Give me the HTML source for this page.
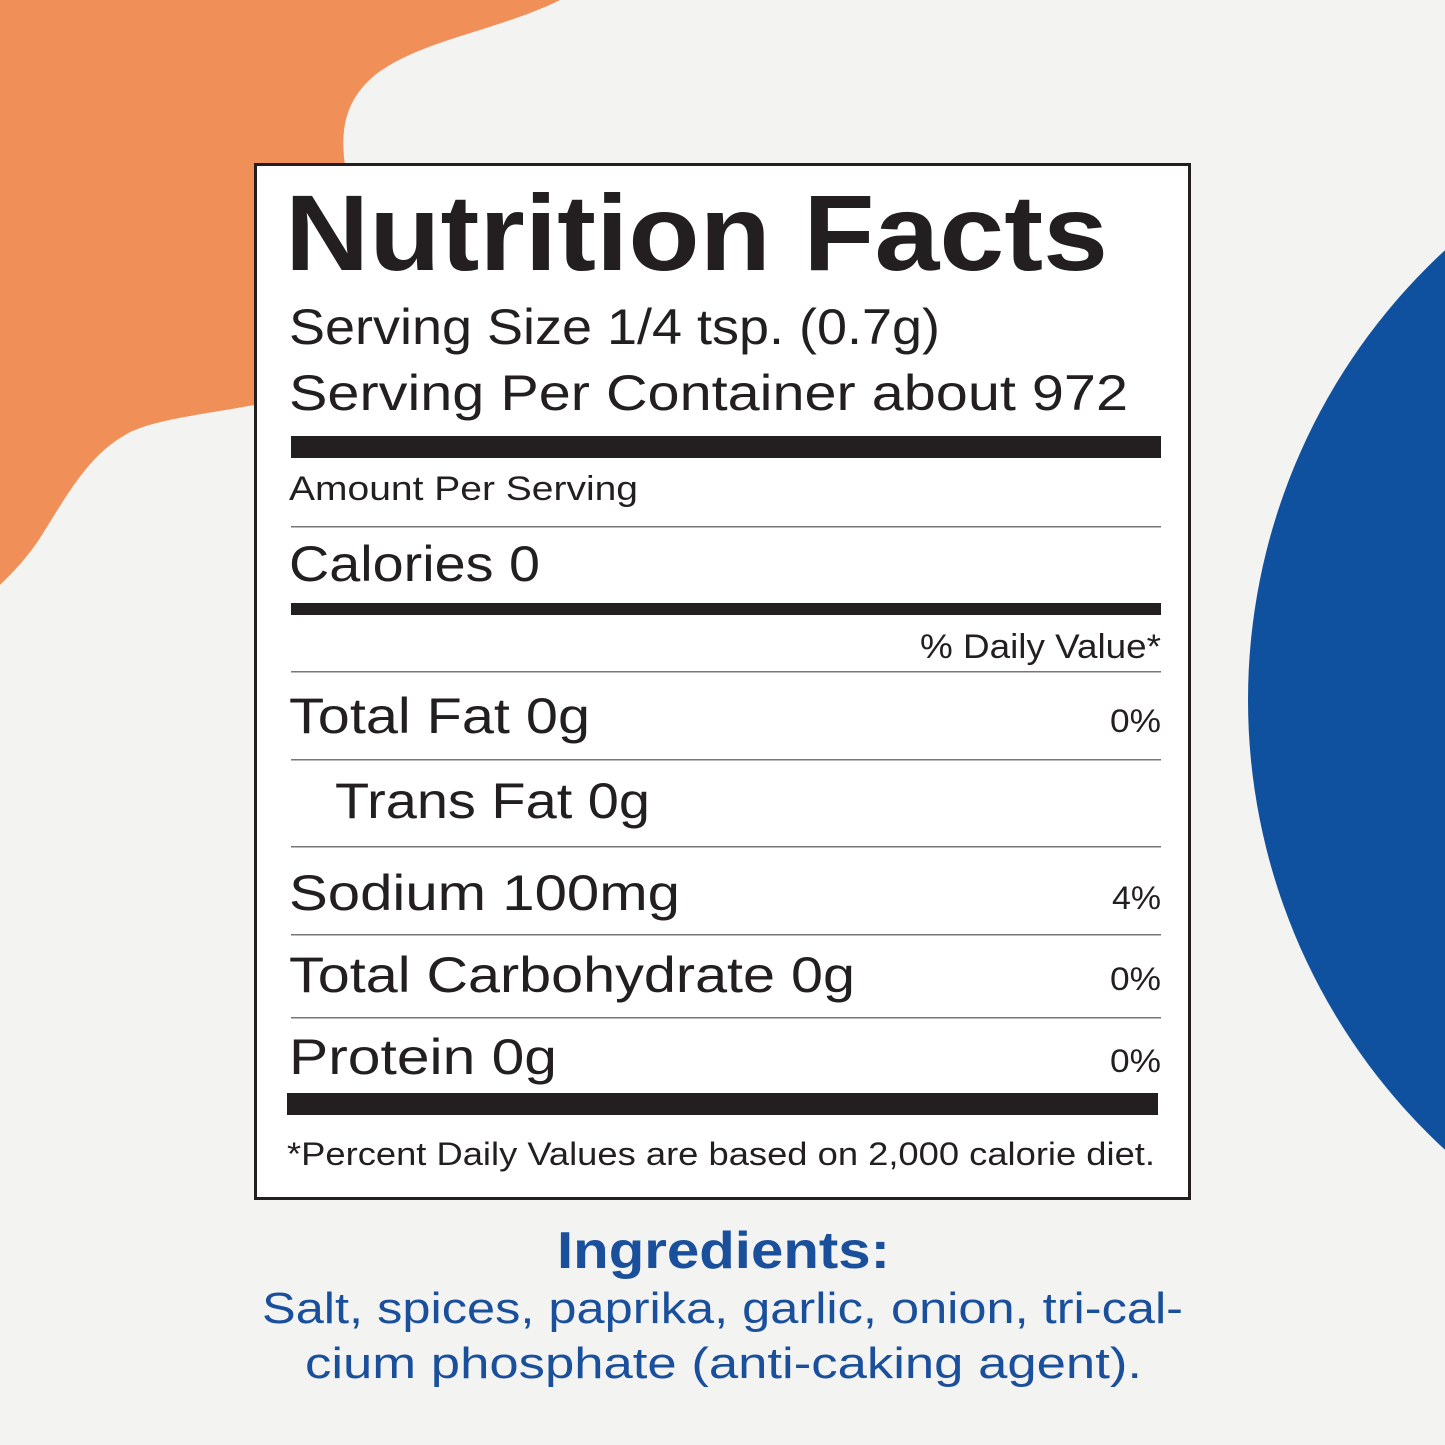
<!DOCTYPE html>
<html><head><meta charset="utf-8"><style>
html,body{margin:0;padding:0;background:#f3f3f1;}
svg{display:block}
text{font-family:"Liberation Sans",sans-serif;fill:#231f20}
</style></head><body>
<svg width="1445" height="1445" viewBox="0 0 1445 1445" xmlns="http://www.w3.org/2000/svg">
<rect width="1445" height="1445" fill="#f3f3f1"/>
<path d="M0,0 H560 C500,30 420,40 375,75 C345,100 340,130 345,165 L254,165 L254,405 C200,415 150,420 125,435 C90,455 70,490 45,530 C30,555 15,570 0,585 Z" fill="#f08f58"/>
<circle cx="1860" cy="700" r="612" fill="#10519f"/>
<rect x="255.5" y="164.5" width="934" height="1034" fill="#fff" stroke="#231f20" stroke-width="3"/>
<text x="285" y="270" font-size="108" font-weight="bold" textLength="823" lengthAdjust="spacingAndGlyphs">Nutrition Facts</text>
<text x="289" y="344" font-size="50" textLength="651" lengthAdjust="spacingAndGlyphs">Serving Size 1/4 tsp. (0.7g)</text>
<text x="289" y="410" font-size="50" textLength="839" lengthAdjust="spacingAndGlyphs">Serving Per Container about 972</text>
<rect x="291" y="436" width="870" height="22" fill="#231f20"/>
<text x="289" y="500" font-size="34" textLength="349" lengthAdjust="spacingAndGlyphs">Amount Per Serving</text>
<rect x="291" y="526" width="870" height="1.5" fill="#777"/>
<text x="289" y="581" font-size="50" textLength="251" lengthAdjust="spacingAndGlyphs">Calories 0</text>
<rect x="291" y="603" width="870" height="12" fill="#231f20"/>
<text x="920" y="658" font-size="34" textLength="241" lengthAdjust="spacingAndGlyphs">% Daily Value*</text>
<rect x="291" y="671" width="870" height="1.5" fill="#777"/>
<text x="289" y="733" font-size="50" textLength="301" lengthAdjust="spacingAndGlyphs">Total Fat 0g</text>
<text x="1110" y="732" font-size="32" textLength="51" lengthAdjust="spacingAndGlyphs">0%</text>
<rect x="291" y="759" width="870" height="1.5" fill="#777"/>
<text x="335" y="818" font-size="50" textLength="315" lengthAdjust="spacingAndGlyphs">Trans Fat 0g</text>
<rect x="291" y="846" width="870" height="1.5" fill="#777"/>
<text x="289" y="910" font-size="50" textLength="391" lengthAdjust="spacingAndGlyphs">Sodium 100mg</text>
<text x="1112" y="909" font-size="32" textLength="49" lengthAdjust="spacingAndGlyphs">4%</text>
<rect x="291" y="934" width="870" height="1.5" fill="#777"/>
<text x="289" y="992" font-size="50" textLength="566" lengthAdjust="spacingAndGlyphs">Total Carbohydrate 0g</text>
<text x="1110" y="990" font-size="32" textLength="51" lengthAdjust="spacingAndGlyphs">0%</text>
<rect x="291" y="1017" width="870" height="1.5" fill="#777"/>
<text x="289" y="1074" font-size="50" textLength="268" lengthAdjust="spacingAndGlyphs">Protein 0g</text>
<text x="1110" y="1072" font-size="32" textLength="51" lengthAdjust="spacingAndGlyphs">0%</text>
<rect x="287" y="1093" width="871" height="22" fill="#231f20"/>
<text x="287" y="1165" font-size="32" textLength="868" lengthAdjust="spacingAndGlyphs">*Percent Daily Values are based on 2,000 calorie diet.</text>
<text x="557" y="1268" font-size="52" font-weight="bold" style="fill:#1a4f9c" textLength="333" lengthAdjust="spacingAndGlyphs">Ingredients:</text>
<text x="262" y="1323" font-size="44" style="fill:#1a4f9c" textLength="921" lengthAdjust="spacingAndGlyphs">Salt, spices, paprika, garlic, onion, tri-cal-</text>
<text x="305" y="1378" font-size="44" style="fill:#1a4f9c" textLength="837" lengthAdjust="spacingAndGlyphs">cium phosphate (anti-caking agent).</text>
</svg>
</body></html>
